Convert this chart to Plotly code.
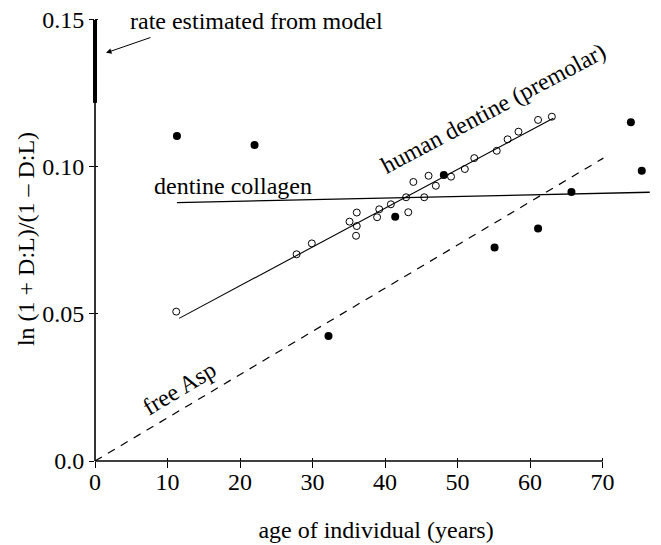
import plotly.graph_objects as go

# ---- data ----
premolar_age = [11.2, 27.8, 29.9, 35.1, 36.1, 36.1, 36.0, 38.9, 39.2, 40.8, 42.9, 43.2,
                43.9, 45.4, 46.0, 47.0, 49.1, 51.0, 52.3, 55.4, 56.9, 58.4, 61.1, 63.0]
premolar_val = [0.0508, 0.0703, 0.0740, 0.0814, 0.0845, 0.0799, 0.0766, 0.0829, 0.0856, 0.0873,
                0.0897, 0.0846, 0.0949, 0.0897, 0.0970, 0.0936, 0.0967, 0.0993, 0.1030, 0.1055,
                0.1094, 0.1120, 0.1160, 0.1171]

collagen_age = [11.3, 22.0, 32.2, 41.4, 48.1, 55.1, 61.1, 65.7, 73.9, 75.4]
collagen_val = [0.1105, 0.1075, 0.0425, 0.0831, 0.0973, 0.0726, 0.0791, 0.0915, 0.1152, 0.0987]

premolar_fit_x = [11.6, 63.2]
premolar_fit_y = [0.0485, 0.1166]
collagen_fit_x = [11.3, 76.5]
collagen_fit_y = [0.0879, 0.0914]
free_asp_x = [0, 70.1]
free_asp_y = [0, 0.103]
model_rate_y = [0.1218, 0.15]

x_ticks = [0, 10, 20, 30, 40, 50, 60, 70]
x_ticktext = ["0", "10", "20", "30", "40", "50", "60", "70"]
y_ticks = [0.0, 0.05, 0.10, 0.15]
y_ticktext = ["0.0", "0.05", "0.10", "0.15"]

FONT = "Liberation Serif, Times New Roman, serif"
FS = 24

fig = go.Figure()

fig.add_trace(go.Scatter(x=free_asp_x, y=free_asp_y, mode="lines",
                         line=dict(color="black", width=1.2, dash="8px,7px"),
                         showlegend=False, hoverinfo="skip"))
fig.add_trace(go.Scatter(x=collagen_fit_x, y=collagen_fit_y, mode="lines",
                         line=dict(color="black", width=1.3),
                         showlegend=False, hoverinfo="skip"))
fig.add_trace(go.Scatter(x=premolar_fit_x, y=premolar_fit_y, mode="lines",
                         line=dict(color="black", width=1.1),
                         showlegend=False, hoverinfo="skip"))
fig.add_trace(go.Scatter(x=premolar_age, y=premolar_val, mode="markers",
                         marker=dict(symbol="circle-open", size=7, color="black",
                                     line=dict(width=1, color="black")),
                         showlegend=False, cliponaxis=False))
fig.add_trace(go.Scatter(x=collagen_age, y=collagen_val, mode="markers",
                         marker=dict(symbol="circle", size=8, color="black"),
                         showlegend=False, cliponaxis=False))
# dummy trace for overlay tick axes
fig.add_trace(go.Scatter(x=[None], y=[None], xaxis="x2", yaxis="y2",
                         showlegend=False, hoverinfo="skip"))

# axis lines (from 0 to last tick) and model-rate bar
fig.add_shape(type="line", xref="x", yref="paper", x0=x_ticks[0], x1=x_ticks[-1], y0=0, y1=0,
              line=dict(color="black", width=1.6), layer="above")
fig.add_shape(type="line", xref="paper", yref="y", x0=0, x1=0, y0=y_ticks[0], y1=y_ticks[-1],
              line=dict(color="black", width=1.6), layer="above")
fig.add_shape(type="line", xref="paper", yref="y", x0=0, x1=0, y0=model_rate_y[0], y1=model_rate_y[1],
              line=dict(color="black", width=4), layer="above")

txt = dict(family=FONT, size=FS, color="black")
fig.add_annotation(x=4.55, y=0.1495, xref="x", yref="y", text="rate estimated from model",
                   showarrow=False, xanchor="left", yanchor="middle", font=txt)
fig.add_annotation(x=1.52, y=0.1388, ax=7.86, ay=0.1442, xref="x", yref="y",
                   axref="x", ayref="y", text="", showarrow=True,
                   arrowhead=2, arrowsize=1.1, arrowwidth=1, arrowcolor="black")
fig.add_annotation(x=7.86, y=0.0935, xref="x", yref="y", text="dentine collagen",
                   showarrow=False, xanchor="left", yanchor="middle", font=txt)
fig.add_annotation(x=55.0, y=0.1200, xref="x", yref="y", text="human dentine (premolar)",
                   showarrow=False, textangle=-28, font=txt)
fig.add_annotation(x=11.7, y=0.0248, xref="x", yref="y", text="free Asp",
                   showarrow=False, textangle=-31, font=txt)

# the page body adds an 8px offset, so the figure is sized to end at the window edge
fig.update_layout(
    width=653, height=537,
    margin=dict(l=87, r=4, t=9, b=84),
    paper_bgcolor="white", plot_bgcolor="white",
    font=dict(family=FONT, size=FS, color="black"),
    showlegend=False,
    xaxis=dict(range=[0, 77.5], showgrid=False, zeroline=False, showline=False,
               automargin=False, ticklabeloverflow="allow",
               tickmode="array", tickvals=x_ticks, ticktext=x_ticktext,
               ticks="outside", ticklen=6, tickwidth=1, tickcolor="black",
               ticklabelstandoff=-7,
               tickfont=dict(family=FONT, size=FS, color="black"),
               title=dict(text="age of individual (years)", standoff=27,
                          font=dict(family=FONT, size=FS, color="black"))),
    yaxis=dict(range=[0, 0.151], showgrid=False, zeroline=False, showline=False,
               automargin=False, ticklabeloverflow="allow",
               tickmode="array", tickvals=y_ticks, ticktext=y_ticktext,
               ticks="outside", ticklen=5, tickwidth=1, tickcolor="black",
               tickfont=dict(family=FONT, size=FS, color="black"),
               title=dict(text="ln (1 + D:L)/(1 – D:L)", standoff=0,
                          font=dict(family=FONT, size=FS, color="black"))),
    xaxis2=dict(overlaying="x", anchor="y2", side="bottom", range=[0, 77.5],
                automargin=False,
                showgrid=False, zeroline=False, showline=False, showticklabels=False,
                tickmode="array", tickvals=x_ticks, ticks="inside", ticklen=3,
                tickwidth=1, tickcolor="black"),
    yaxis2=dict(overlaying="y", anchor="x2", side="left", range=[0, 0.151],
                automargin=False,
                showgrid=False, zeroline=False, showline=False, showticklabels=False,
                tickmode="array", tickvals=y_ticks, ticks="inside", ticklen=3,
                tickwidth=1, tickcolor="black"),
)

fig.write_html("out.html")
